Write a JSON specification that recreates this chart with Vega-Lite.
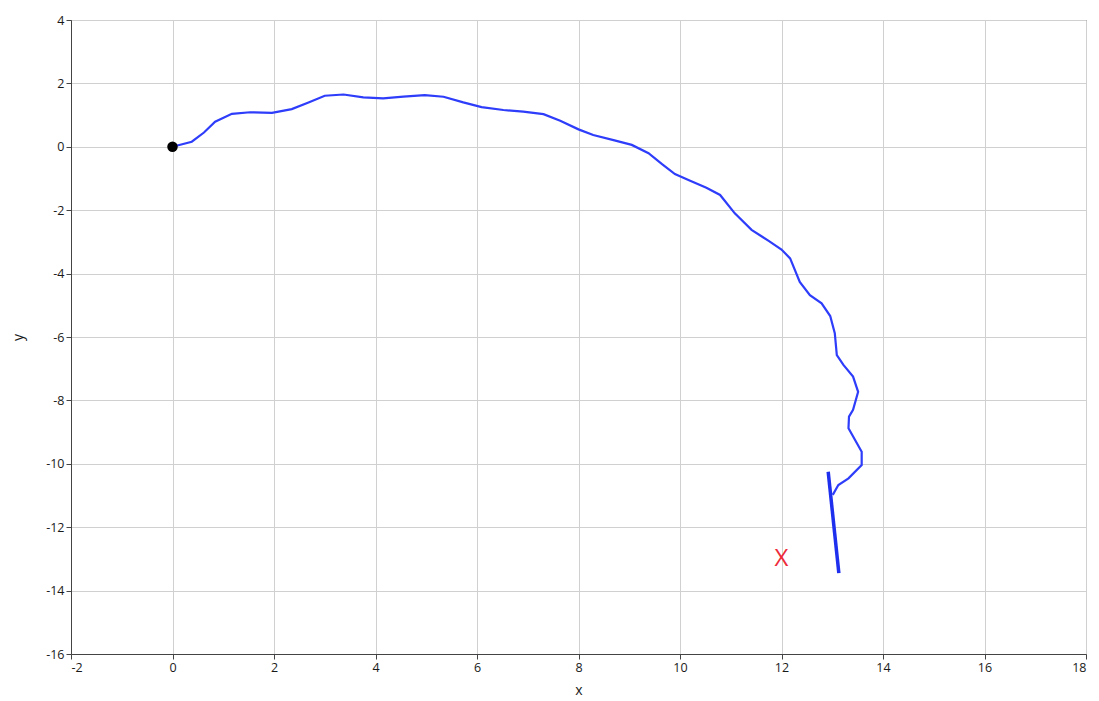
{
  "$schema": "https://vega.github.io/schema/vega-lite/v6.json",
  "width": 1015,
  "height": 634,
  "autosize": {"type": "none"},
  "padding": {"left": 71, "top": 20, "right": 13, "bottom": 47},
  "background": "white",
  "config": {
    "view": {"stroke": "#444", "strokeWidth": 1},
    "font": "Open Sans",
    "axis": {
      "gridColor": "#d0d0d0",
      "gridWidth": 1,
      "domainColor": "#444",
      "tickColor": "#444",
      "tickSize": 5,
      "labelFont": "Open Sans",
      "labelFontSize": 12.5,
      "labelColor": "#1a1a1a",
      "labelExpr": "datum.value + ''",
      "titleFont": "Open Sans",
      "titleFontSize": 14,
      "titleFontWeight": "normal",
      "titleColor": "#1a1a1a"
    }
  },
  "datasets": {
    "path": [
      {"s": "a", "i": 0, "x": 0, "y": 0},
      {"s": "a", "i": 1, "x": 0.38, "y": 0.16},
      {"s": "a", "i": 2, "x": 0.62, "y": 0.45},
      {"s": "a", "i": 3, "x": 0.84, "y": 0.79},
      {"s": "a", "i": 4, "x": 1.17, "y": 1.04},
      {"s": "a", "i": 5, "x": 1.53, "y": 1.09},
      {"s": "a", "i": 6, "x": 1.96, "y": 1.07},
      {"s": "a", "i": 7, "x": 2.35, "y": 1.19},
      {"s": "a", "i": 8, "x": 2.68, "y": 1.40},
      {"s": "a", "i": 9, "x": 3.0, "y": 1.61},
      {"s": "a", "i": 10, "x": 3.37, "y": 1.65},
      {"s": "a", "i": 11, "x": 3.76, "y": 1.56},
      {"s": "a", "i": 12, "x": 4.15, "y": 1.53},
      {"s": "a", "i": 13, "x": 4.55, "y": 1.58},
      {"s": "a", "i": 14, "x": 4.97, "y": 1.63},
      {"s": "a", "i": 15, "x": 5.34, "y": 1.58},
      {"s": "a", "i": 16, "x": 5.73, "y": 1.40},
      {"s": "a", "i": 17, "x": 6.09, "y": 1.25},
      {"s": "a", "i": 18, "x": 6.52, "y": 1.16},
      {"s": "a", "i": 19, "x": 6.91, "y": 1.11},
      {"s": "a", "i": 20, "x": 7.31, "y": 1.03},
      {"s": "a", "i": 21, "x": 7.64, "y": 0.82},
      {"s": "a", "i": 22, "x": 8.0, "y": 0.55},
      {"s": "a", "i": 23, "x": 8.29, "y": 0.37},
      {"s": "a", "i": 24, "x": 8.69, "y": 0.21},
      {"s": "a", "i": 25, "x": 9.05, "y": 0.06},
      {"s": "a", "i": 26, "x": 9.38, "y": -0.2},
      {"s": "a", "i": 27, "x": 9.64, "y": -0.54},
      {"s": "a", "i": 28, "x": 9.9, "y": -0.86},
      {"s": "a", "i": 29, "x": 10.2, "y": -1.07},
      {"s": "a", "i": 30, "x": 10.52, "y": -1.29},
      {"s": "a", "i": 31, "x": 10.79, "y": -1.52},
      {"s": "a", "i": 32, "x": 11.08, "y": -2.10},
      {"s": "a", "i": 33, "x": 11.41, "y": -2.62},
      {"s": "a", "i": 34, "x": 11.74, "y": -2.96},
      {"s": "a", "i": 35, "x": 12.0, "y": -3.24},
      {"s": "a", "i": 36, "x": 12.17, "y": -3.52},
      {"s": "a", "i": 37, "x": 12.36, "y": -4.26},
      {"s": "a", "i": 38, "x": 12.56, "y": -4.68},
      {"s": "a", "i": 39, "x": 12.79, "y": -4.94},
      {"s": "a", "i": 40, "x": 12.96, "y": -5.34},
      {"s": "a", "i": 41, "x": 13.05, "y": -5.88},
      {"s": "a", "i": 42, "x": 13.09, "y": -6.57},
      {"s": "a", "i": 43, "x": 13.22, "y": -6.88},
      {"s": "a", "i": 44, "x": 13.41, "y": -7.25},
      {"s": "a", "i": 45, "x": 13.51, "y": -7.73},
      {"s": "a", "i": 46, "x": 13.41, "y": -8.30},
      {"s": "a", "i": 47, "x": 13.33, "y": -8.51},
      {"s": "a", "i": 48, "x": 13.32, "y": -8.88},
      {"s": "a", "i": 49, "x": 13.58, "y": -9.62},
      {"s": "a", "i": 50, "x": 13.58, "y": -10.04},
      {"s": "a", "i": 51, "x": 13.32, "y": -10.46},
      {"s": "a", "i": 52, "x": 13.12, "y": -10.67},
      {"s": "a", "i": 53, "x": 13.01, "y": -10.98}
    ],
    "seg": [
      {"i": 0, "x": 12.92, "y": -10.25},
      {"i": 1, "x": 13.13, "y": -13.45}
    ],
    "start": [{"x": 0, "y": 0}],
    "target": [{"x": 12, "y": -13, "label": "X"}]
  },
  "layer": [
    {
      "data": {"name": "path"},
      "mark": {"type": "line", "color": "#2e3dfa", "strokeWidth": 2.2},
      "encoding": {
        "x": {"field": "x", "type": "quantitative", "scale": {"domain": [-2, 18], "nice": false, "zero": false}, "axis": {"values": [-2,0,2,4,6,8,10,12,14,16,18], "title": "x", "titlePadding": 10}},
        "y": {"field": "y", "type": "quantitative", "scale": {"domain": [-16, 4], "nice": false, "zero": false}, "axis": {"values": [-16,-14,-12,-10,-8,-6,-4,-2,0,2,4], "title": "y", "titlePadding": 20}},
        "order": {"field": "i", "type": "quantitative"}
      }
    },
    {
      "data": {"name": "seg"},
      "mark": {"type": "line", "color": "#1f2fee", "strokeWidth": 3.5},
      "encoding": {
        "x": {"field": "x", "type": "quantitative"},
        "y": {"field": "y", "type": "quantitative"},
        "order": {"field": "i", "type": "quantitative"}
      }
    },
    {
      "data": {"name": "start"},
      "mark": {"type": "point", "filled": true, "color": "black", "size": 110, "opacity": 1},
      "encoding": {
        "x": {"field": "x", "type": "quantitative"},
        "y": {"field": "y", "type": "quantitative"}
      }
    },
    {
      "data": {"name": "target"},
      "mark": {"type": "text", "color": "#ee2a3a", "fontSize": 24, "font": "Open Sans", "align": "center", "baseline": "middle"},
      "encoding": {
        "x": {"field": "x", "type": "quantitative"},
        "y": {"field": "y", "type": "quantitative"},
        "text": {"field": "label"}
      }
    }
  ]
}
